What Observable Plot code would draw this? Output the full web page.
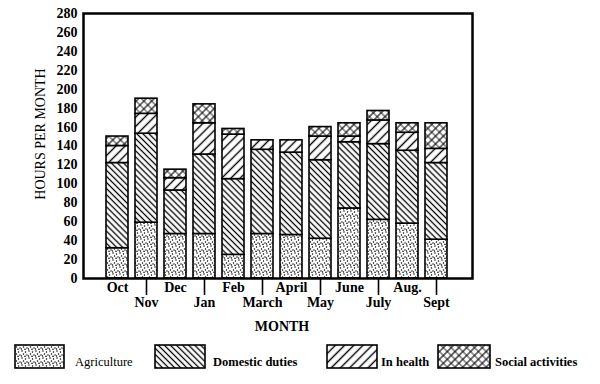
<!DOCTYPE html>
<html><head><meta charset="utf-8">
<script src="https://cdn.jsdelivr.net/npm/d3@7"></script>
<script src="https://cdn.jsdelivr.net/npm/@observablehq/plot@0.6"></script>
<style>
body{margin:0;background:#fff;}
#chart svg, #legend svg{display:block;}
#chart text, #legend text{font-family:"Liberation Serif","DejaVu Serif",serif !important;}
</style></head><body>
<svg width="0" height="0" style="position:absolute" id="patdefs"></svg>
<div id="chart"></div>
<div id="legend"></div>
<script>
// ---- data ----
const months = ["Oct","Nov","Dec","Jan","Feb","March","April","May","June","July","Aug.","Sept"];
const upperMonths = ["Oct","Dec","Feb","April","June","Aug."];
const lowerMonths = ["Nov","Jan","March","May","July","Sept"];
const seriesNames = ["Agriculture","Domestic duties","In health","Social activities"];
const agriculture = [32,59,47,47,25,47,46,42,74,62,58,41];
const domestic    = [90,94,46,84,80,89,87,83,70,80,77,81];
const health      = [18,21,13,33,47,10,13,25, 6,25,19,15];
const social      = [10,16, 9,20, 6, 0, 0,10,14,10,10,27];
const yTicks = [0,20,40,60,80,100,120,140,160,180,200,220,240,260,280];
const patternIds = ["pat-agri","pat-dom","pat-health","pat-social"];

const seriesValues = [agriculture, domestic, health, social];
const data = months.flatMap((m, i) => seriesNames.map((s, k) => ({month: m, series: s, value: seriesValues[k][i]})))
  .filter(d => d.value > 0);

// ---- patterns ----
const defs = d3.select("#patdefs").append("defs");
function bg(p, w, h) { p.append("rect").attr("width", w).attr("height", h).attr("fill", "white"); }
{
  const w = 7, h = 7;
  const p = defs.append("pattern").attr("id", "pat-agri").attr("patternUnits", "userSpaceOnUse").attr("width", w).attr("height", h);
  bg(p, w, h);
  [[1,1],[4.5,2],[2.5,4],[6,5],[0.5,6],[4,6.3]].forEach(([x,y]) => p.append("circle").attr("cx", x).attr("cy", y).attr("r", 0.75).attr("fill", "black"));
}
function lines(id, s, angle, sw) {
  const p = defs.append("pattern").attr("id", id).attr("patternUnits", "userSpaceOnUse")
    .attr("width", s).attr("height", s).attr("patternTransform", `rotate(${angle})`);
  bg(p, s, s);
  p.append("line").attr("x1", s/2).attr("y1", -1).attr("x2", s/2).attr("y2", s+1).attr("stroke", "black").attr("stroke-width", sw);
  return p;
}
lines("pat-dom", 4.3, -45, 1.3);
lines("pat-health", 6.5, 45, 1.4);
{
  const s = 5.5;
  const p = defs.append("pattern").attr("id", "pat-social").attr("patternUnits", "userSpaceOnUse")
    .attr("width", s).attr("height", s).attr("patternTransform", "rotate(45)");
  bg(p, s, s);
  p.append("line").attr("x1", s/2).attr("y1", -1).attr("x2", s/2).attr("y2", s+1).attr("stroke", "black").attr("stroke-width", 1.1);
  p.append("line").attr("x1", -1).attr("y1", s/2).attr("x2", s+1).attr("y2", s/2).attr("stroke", "black").attr("stroke-width", 0.8);
}

const serif = "Liberation Serif, DejaVu Serif, serif";

// ---- chart ----
const chart = Plot.plot({
  width: 600,
  height: 336,
  marginTop: 13,
  marginBottom: 58,
  marginLeft: 83,
  marginRight: 128,
  style: {fontFamily: serif, fontSize: "14px", color: "black", background: "white"},
  x: {domain: months, padding: 0.24, insetLeft: 16, insetRight: 18, axis: null},
  y: {domain: [0, 280], axis: null},
  color: {domain: seriesNames, range: patternIds.map(id => `url(#${id})`)},
  marks: [
    Plot.barY(data, Plot.stackY({x: "month", y: "value", fill: "series", order: seriesNames, stroke: "black", strokeWidth: 1.6})),
    Plot.frame({stroke: "black", strokeWidth: 2.5}),
    Plot.axisY({ticks: yTicks, tickSize: 0, tickPadding: 6, fontSize: 14, fontWeight: "bold", label: null}),
    Plot.axisX({ticks: upperMonths, tickSize: 0, tickPadding: 4, fontSize: 14, fontWeight: "bold", label: null}),
    Plot.axisX({ticks: lowerMonths, tickSize: 17, tickPadding: 2, strokeWidth: 1.6, fontSize: 14, fontWeight: "bold", label: null}),
    Plot.text(["MONTH"], {frameAnchor: "bottom", lineAnchor: "middle", dy: 48, dx: 4, fontSize: 14, fontWeight: "bold"}),
    Plot.text(["HOURS PER MONTH"], {frameAnchor: "left", textAnchor: "middle", lineAnchor: "middle", rotate: -90, dx: -43, dy: -12, fontSize: 14})
  ]
});
document.getElementById("chart").append(chart);

// ---- legend ----
const legendPos = [
  {box: 15, w: 49, text: 75, weight: "normal"},
  {box: 155, w: 50, text: 213, weight: "bold"},
  {box: 327, w: 50, text: 381, weight: "bold"},
  {box: 438, w: 52, text: 495, weight: "bold"}
];
const lg = d3.select("#legend").append("svg").attr("width", 600).attr("height", 48);
seriesNames.forEach((s, k) => {
  const p = legendPos[k];
  lg.append("rect").attr("x", p.box).attr("y", 9).attr("width", p.w).attr("height", 23)
    .attr("fill", `url(#${patternIds[k]})`).attr("stroke", "black").attr("stroke-width", 1.6);
  lg.append("text").attr("x", p.text).attr("y", 30).text(s)
    .attr("font-size", 12.5).attr("font-weight", p.weight);
});
</script>
</body></html>
